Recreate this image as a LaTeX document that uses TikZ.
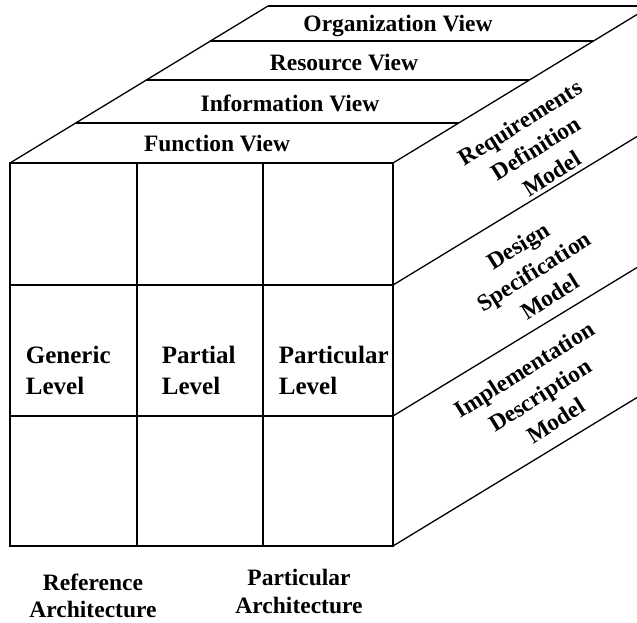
\documentclass[tikz,border=0pt]{standalone}
\usepackage{fontspec}
\setmainfont{Liberation Serif}
\usetikzlibrary{calc}

\begin{document}
\begin{tikzpicture}[x=1pt, y=-1pt, line width=1.9pt,
    slant/.style={line width=1.3pt},
    lbl/.style={font=\fontsize{23.5}{30}\selectfont\bfseries, inner sep=0pt},
    level/.style={lbl, font=\fontsize{25}{31}\selectfont\bfseries, align=left, anchor=base west},
    arch/.style={lbl, align=center, anchor=base},
    face/.style={lbl, align=center, rotate=32}]
    \useasboundingbox (0,0) rectangle (637,622);
    \clip (0,0) rectangle (637,622);

    % front face
    \coordinate (ftl) at (10,163);
    \coordinate (ftr) at (393,163);
    \coordinate (fbr) at (393,546);
    \draw (ftl) rectangle (fbr);
    \draw (137,163) -- (137,546);
    \draw (263,163) -- (263,546);
    \draw (10,285) -- (393,285);
    \draw (10,416) -- (393,416);

    % top face
    \draw[slant] (ftl) -- ++(258,-157);
    \draw ($(ftl)+(258,-157)$) -- ++(420,0);
    \foreach \y in {123,80,41}
        \draw ($(ftl)+({(163-\y)/0.609},\y-163)$) -- ($(ftr)+({(163-\y)/0.609},\y-163)$);

    % right face
    \foreach \y in {163,285,416,546}
        \draw[slant] (393,\y) -- ++(258,-157);

    % views
    \node[lbl, anchor=base] (func) at (217,151) {Function View};
    \node[lbl, anchor=base] (info) at (290,111) {Information View};
    \node[lbl, anchor=base] (res)  at (344,70)  {Resource View};
    \node[lbl, anchor=base] (org)  at (398,31)  {Organization View};

    % levels (base = last line)
    \node[level] (gen)  at (25,394)  {Generic\\Level};
    \node[level] (part) at (161,394) {Partial\\Level};
    \node[level] (pcul) at (278,394) {Particular\\Level};

    % models
    \node[face] (req) at (536,148) {Requirements\\Definition\\Model};
    \node[face] (des) at (534,271) {Design\\Specification\\Model};
    \node[face] (imp) at (540,395) {Implementation\\Description\\Model};

    % architectures
    \node[arch, font=\fontsize{23.5}{27}\selectfont\bfseries] (ref) at (93,617) {Reference\\Architecture};
    \node[arch, font=\fontsize{23.5}{28}\selectfont\bfseries] (pca) at (299,613) {Particular\\Architecture};
\end{tikzpicture}
\end{document}
